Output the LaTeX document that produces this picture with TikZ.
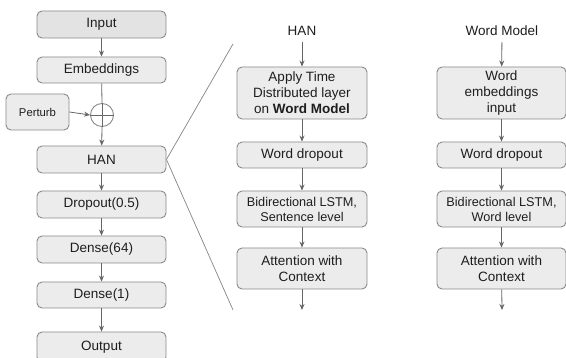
\documentclass[tikz,border=0pt]{standalone}
\usepackage{fontspec}
\setmainfont{Liberation Sans}
\usetikzlibrary{arrows.meta}
\definecolor{boxfill}{HTML}{ECECEC}
\definecolor{boxline}{HTML}{8A8A8A}
\definecolor{arrline}{HTML}{666666}
\definecolor{txt}{HTML}{1E1E1E}
\tikzset{
  box/.style={draw=boxline, fill=boxfill, rounded corners=5pt, line width=0.9pt,
    minimum width=129pt, inner sep=0pt, align=center, text=txt,
    font=\fontsize{13.5}{16}\selectfont},
  smallbox/.style={box, font=\fontsize{12.7}{15}\selectfont},
  lbl/.style={inner sep=0pt, text=txt, minimum height=22pt, font=\fontsize{13.5}{16}\selectfont},
  arr/.style={draw=arrline, line width=0.8pt, -{Stealth[length=6pt,width=5pt]}},
  ln/.style={draw=arrline, line width=0.8pt},
  diag/.style={draw=arrline!80, line width=0.7pt}
}
\begin{document}
\begin{tikzpicture}[x=1pt,y=-1pt]
\clip (0,0) rectangle (566,358);
\fill[white] (0,0) rectangle (566,358);
% left column
\node[box, minimum height=27pt, fill=boxfill!96!black] (inp) at (101.5,24.5) {Input};
\node[box, minimum height=26pt] (emb) at (101.5,70) {Embeddings};
\node[box, minimum width=63pt, minimum height=36pt, font=\fontsize{11.3}{13}\selectfont] (pert) at (37.5,112) {Perturb};
\node[draw=boxline, line width=0.9pt, circle, minimum size=23pt, inner sep=0pt] (circ) at (102,115) {};
\node[box, minimum height=27pt] (han) at (101.5,159.5) {HAN};
\node[box, minimum height=27pt] (drop) at (101.5,204.5) {Dropout(0.5)};
\node[box, minimum height=27pt] (d64) at (101.5,249.5) {Dense(64)};
\node[box, minimum height=26pt] (d1) at (101.5,295) {Dense(1)};
\node[box, minimum height=30pt] (out) at (101.5,347) {Output};
\draw[arr] (inp) -- (emb);
\draw[ln] (emb) -- (circ.north);
\draw[ln] (circ.north) -- (circ.south);
\draw[arr] (circ.south) -- (han);
\draw[ln] (circ.west) -- (circ.east);
\draw[arr] (pert.east) -- (circ.west);
\draw[arr] (han) -- (drop);
\draw[arr] (drop) -- (d64);
\draw[arr] (d64) -- (d1);
\draw[arr] (d1) -- (out);
% zoom lines
\coordinate (zt) at (233,44);
\coordinate (zb) at (233,310);
\draw[diag] (han.east) -- (zt);
\draw[diag] (han.east) -- (zb);
% middle column
\node[lbl] (hanl) at (302,31) {HAN};
\node[box, minimum width=130pt, minimum height=52pt] (apply) at (302,93) {Apply Time\\Distributed layer\\on \textbf{Word Model}};
\node[box, minimum width=130pt, minimum height=26pt] (wd1) at (302,155) {Word dropout};
\node[smallbox, minimum width=130pt, minimum height=36pt] (bi1) at (302,209) {Bidirectional LSTM,\\Sentence level};
\node[box, minimum width=130pt, minimum height=41pt] (att1) at (302,268.5) {Attention with\\Context};
\coordinate (e1) at (302,310);
\draw[arr] (hanl) -- (apply);
\draw[arr] (apply) -- (wd1);
\draw[arr] (wd1) -- (bi1);
\draw[arr] (bi1) -- (att1);
\draw[arr] (att1) -- (e1);
% right column
\node[lbl] (wml) at (502,31) {Word Model};
\node[box, minimum width=129pt, minimum height=52pt] (wemb) at (501.5,93) {Word\\embeddings\\input};
\node[box, minimum width=129pt, minimum height=26pt] (wd2) at (501.5,155) {Word dropout};
\node[smallbox, minimum width=129pt, minimum height=36pt] (bi2) at (501.5,209) {Bidirectional LSTM,\\Word level};
\node[box, minimum width=129pt, minimum height=41pt] (att2) at (501.5,268.5) {Attention with\\Context};
\coordinate (e2) at (502,310);
\draw[arr] (wml) -- (wemb);
\draw[arr] (wemb) -- (wd2);
\draw[arr] (wd2) -- (bi2);
\draw[arr] (bi2) -- (att2);
\draw[arr] (att2) -- (e2);
\end{tikzpicture}
\end{document}
